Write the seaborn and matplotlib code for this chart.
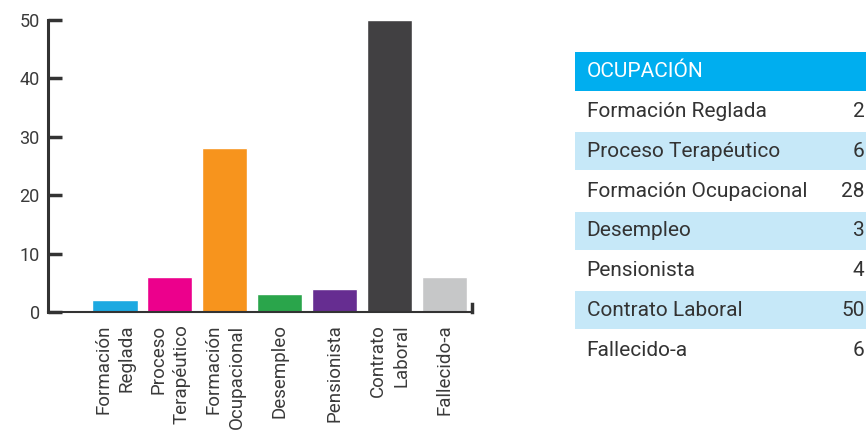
import numpy as np
import pandas as pd
import matplotlib
matplotlib.use("Agg")
import matplotlib.pyplot as plt
import seaborn as sns
from matplotlib.patches import Rectangle

# datos
categorias = ["Formación Reglada", "Proceso Terapéutico", "Formación Ocupacional",
              "Desempleo", "Pensionista", "Contrato Laboral", "Fallecido-a"]
etiquetas_x = ["Formación\nReglada", "Proceso\nTerapéutico", "Formación\nOcupacional",
               "Desempleo", "Pensionista", "Contrato\nLaboral", "Fallecido-a"]
valores = [2, 6, 28, 3, 4, 50, 6]
colores = ["#1DA9E1", "#EC008C", "#F7941D", "#2AA54B", "#662D91", "#414042", "#C6C7C8"]
ticks_y = [0, 10, 20, 30, 40, 50]
titulo_tabla = "OCUPACIÓN"

sns.set_theme(style="white")
plt.rcParams["font.family"] = ["Roboto", "DejaVu Sans"]

df = pd.DataFrame({"cat": etiquetas_x, "n": valores})

W, H = 866, 433
fig = plt.figure(figsize=(W / 100, H / 100), dpi=100)
fig.patch.set_facecolor("white")

ax = fig.add_axes([48 / W, 1 - 312 / H, (472 - 48) / W, (312 - 20) / H])
sns.barplot(data=df, x="cat", y="n", hue="cat", palette=colores, legend=False,
            width=0.82, saturation=1, ax=ax)

ax.set_xlim(-1.22, 6.5)
ax.set_ylim(0, 50)
ax.set_yticks(ticks_y)
ax.set_xlabel("")
ax.set_ylabel("")
ax.set_xticks(range(len(etiquetas_x)))
ax.set_xticklabels(etiquetas_x, rotation=90, ha="center", va="top",
                   multialignment="right", linespacing=1.4,
                   fontsize=13.5, color="#3a3a3a")
ax.tick_params(axis="x", length=0, pad=9)
ax.tick_params(axis="y", left=True, direction="in", length=10, width=2.5,
               color="#333333", labelsize=13, labelcolor="#3a3a3a", pad=6)

ax.spines["top"].set_visible(False)
ax.spines["left"].set_linewidth(2.2)
ax.spines["left"].set_color("#333333")
ax.spines["bottom"].set_linewidth(1.5)
ax.spines["bottom"].set_color("#333333")
ax.spines["right"].set_bounds(0, 1.4)
ax.spines["right"].set_linewidth(2.5)
ax.spines["right"].set_color("#333333")
ax.patch.set_alpha(0)

# tabla
tx = fig.add_axes([575 / W, 1 - 370 / H, (W - 575) / W, (370 - 52) / H])
tx.set_xlim(0, 1)
tx.set_ylim(len(categorias) + 1, 0)
tx.axis("off")
tx.add_patch(Rectangle((0, 0), 1, 0.98, color="#00AEEF", lw=0))
tx.text(0.04, 0.5, titulo_tabla, color="white", fontsize=15,
        va="center", ha="left")
for i, (c, v) in enumerate(zip(categorias, valores)):
    y = i + 1
    if i % 2 == 1:
        tx.add_patch(Rectangle((0, y + 0.02), 1, 0.96, color="#C6E8F8", lw=0))
    tx.text(0.04, y + 0.5, c, color="#333333", fontsize=15,
            va="center", ha="left")
    tx.text(0.995, y + 0.5, str(v), color="#333333", fontsize=15,
            va="center", ha="right")

fig.savefig("out.png", dpi=100, facecolor="white")
